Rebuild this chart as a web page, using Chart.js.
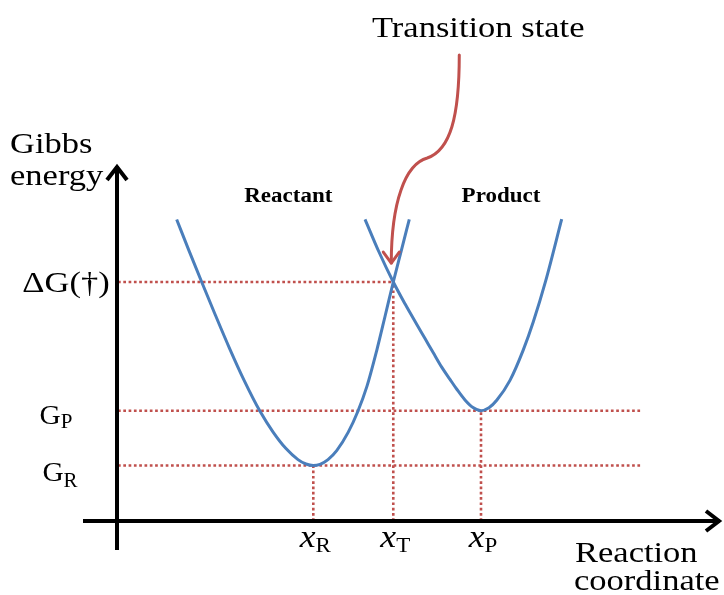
<!DOCTYPE html>
<html>
<head>
<meta charset="utf-8">
<script src="https://cdn.jsdelivr.net/npm/chart.js@4/dist/chart.umd.min.js"></script>
<style>
  html, body { margin: 0; padding: 0; background: #fff; }
  canvas { display: block; }
</style>
</head>
<body>
<canvas id="c" width="724" height="595"></canvas>
<script>
// Gibbs energy profile samples along the reaction coordinate (arbitrary units)
const reactantX = [9.78, 11.83, 13.95, 16.17, 18.55, 21.0, 23.67, 25.88, 28.0, 30.0, 31.33, 32.55,
                   33.67, 35.0, 36.45, 38.38, 39.95, 41.5, 43.12, 44.5, 45.88, 47.22, 48.55];
const reactantG = [84.69, 75.96, 67.13, 58.09, 48.65, 39.58, 30.81, 24.92, 20.34, 17.25, 16.01, 15.59,
                   15.93, 17.25, 19.78, 24.97, 30.7, 37.89, 47.89, 57.44, 67.13, 75.98, 84.75];
const productX  = [41.17, 43.5, 45.88, 47.83, 49.78, 51.17, 52.55, 53.95, 55.33, 56.5, 57.83, 59.17, 60.5,
                   61.83, 63.12, 65.33, 67.55, 69.22, 71.28, 73.95];
const productG  = [84.75, 75.56, 67.13, 61.01, 55.28, 51.26, 47.25, 43.23, 39.79, 36.94, 34.02, 31.88, 30.98,
                   31.8, 33.9, 39.49, 48.06, 55.96, 67.44, 84.78];

// Marked energy levels: G_R, G_P, ΔG(†)
const levelValues = [15.59, 30.98, 67.13];
const yTickLabels = [['G', 'R'], ['G', 'P'], ['ΔG(†)', '']];
// Marked coordinates: x_R, x_T, x_P
const coordValues = [32.55, 45.88, 60.5];
const xTickLabels = [['x', 'R'], ['x', 'T'], ['x', 'P']];
// How far the dotted level lines run to the right
const levelLineEnds = [87.3, 87.3, 45.88];

const curveLabels = ['Reactant', 'Product'];
const yAxisTitle = ['Gibbs', 'energy'];
const xAxisTitle = ['Reaction', 'coordinate'];
const calloutText = 'Transition state';

const BLUE = '#4a7ebb';
const RED = '#c0504d';
const SERIF = '"Liberation Serif", "Times New Roman", serif';
const STRETCH = 1.15;

const zip = (xs, ys) => xs.map((x, i) => ({ x: x, y: ys[i] }));

function curveDataset(xs, ys) {
  return {
    data: zip(xs, ys),
    showLine: true,
    borderColor: BLUE,
    borderWidth: 3,
    pointRadius: 0,
    cubicInterpolationMode: 'monotone',
    fill: false
  };
}

function guideDataset(points) {
  return {
    data: points,
    showLine: true,
    borderColor: RED,
    borderWidth: 2.6,
    borderDash: [2.7, 2.6],
    pointRadius: 0,
    tension: 0,
    fill: false
  };
}

const datasets = [curveDataset(reactantX, reactantG), curveDataset(productX, productG)];
levelValues.forEach((g, i) => {
  datasets.push(guideDataset([{ x: 0, y: g }, { x: levelLineEnds[i], y: g }]));
});
// vertical drops: x_R from G_R, x_T from ΔG, x_P from G_P
const dropTops = [levelValues[0], levelValues[2], levelValues[1]];
coordValues.forEach((x, i) => {
  datasets.push(guideDataset([{ x: x, y: 0 }, { x: x, y: dropTops[i] }]));
});

// text drawn with a slight horizontal stretch
function stretchedText(ctx, text, x, y, font, sx, align) {
  ctx.font = font;
  const w = ctx.measureText(text).width * sx;
  let left = x;
  if (align === 'center') left = x - w / 2;
  else if (align === 'right') left = x - w;
  ctx.save();
  ctx.translate(left, y);
  ctx.scale(sx, 1);
  ctx.textAlign = 'left';
  ctx.textBaseline = 'alphabetic';
  ctx.fillText(text, 0, 0);
  ctx.restore();
  return w;
}

function drawSub(ctx, main, sub, cx, baseline, mainFont, subFont, drop, sx) {
  ctx.font = mainFont;
  const w1 = ctx.measureText(main).width * sx;
  ctx.font = subFont;
  const w2 = sub ? ctx.measureText(sub).width * sx : 0;
  const start = cx - (w1 + w2) / 2;
  stretchedText(ctx, main, start, baseline, mainFont, sx, 'left');
  if (sub) stretchedText(ctx, sub, start + w1, baseline + drop, subFont, sx, 'left');
}

// per-label placement of the energy level names
const yLabelStyle = [
  { cx: 60, dy: 16, size: 28, sub: 20, drop: 6, sx: 1.05 },
  { cx: 56, dy: 13, size: 28, sub: 20, drop: 4, sx: 1.05 },
  { cx: 66, dy: 10, size: 30, sub: 20, drop: 0, sx: 1.15 }
];

const decorations = {
  id: 'decorations',
  afterDatasetsDraw(chart) {
    const ctx = chart.ctx;
    const a = chart.chartArea;
    const xs = chart.scales.x, ys = chart.scales.y;
    ctx.save();

    // axes with open arrow heads
    ctx.strokeStyle = '#000';
    ctx.lineWidth = 4;
    ctx.lineCap = 'butt';
    ctx.lineJoin = 'miter';
    ctx.beginPath();
    ctx.moveTo(a.left - 1, a.bottom + 29);
    ctx.lineTo(a.left - 1, a.top + 1);
    ctx.stroke();
    ctx.beginPath();
    ctx.moveTo(a.left - 11, a.top + 15);
    ctx.lineTo(a.left - 1, a.top + 2);
    ctx.lineTo(a.left + 9, a.top + 15);
    ctx.stroke();

    ctx.beginPath();
    ctx.moveTo(a.left - 35, a.bottom);
    ctx.lineTo(a.right + 2, a.bottom);
    ctx.stroke();
    ctx.beginPath();
    ctx.moveTo(a.right - 12, a.bottom - 10);
    ctx.lineTo(a.right + 1, a.bottom);
    ctx.lineTo(a.right - 12, a.bottom + 10);
    ctx.stroke();

    ctx.fillStyle = '#000';

    // level labels on the energy axis
    levelValues.forEach((g, i) => {
      const py = ys.getPixelForValue(g);
      const lab = yTickLabels[i];
      const st = yLabelStyle[i];
      drawSub(ctx, lab[0], lab[1], st.cx, py + st.dy,
        st.size + 'px ' + SERIF, st.sub + 'px ' + SERIF, st.drop, st.sx);
    });

    // coordinate labels under the reaction axis
    coordValues.forEach((x, i) => {
      const px = xs.getPixelForValue(x);
      const lab = xTickLabels[i];
      drawSub(ctx, lab[0], lab[1], px + 2, a.bottom + 26,
        'italic 31px ' + SERIF, '20px ' + SERIF, 5, STRETCH);
    });

    // axis titles and callout text
    const big = '30px ' + SERIF;
    stretchedText(ctx, yAxisTitle[0], 10, 153, big, STRETCH, 'left');
    stretchedText(ctx, yAxisTitle[1], 10, 185, big, STRETCH, 'left');
    stretchedText(ctx, xAxisTitle[0], 575, 562, big, STRETCH, 'left');
    stretchedText(ctx, xAxisTitle[1], 574, 590, big, STRETCH, 'left');
    stretchedText(ctx, calloutText, 372, 37, big, STRETCH, 'left');

    // well labels
    const bold = 'bold 20px ' + SERIF;
    stretchedText(ctx, curveLabels[0], xs.getPixelForValue(coordValues[0]) - 25, 202, bold, STRETCH, 'center');
    stretchedText(ctx, curveLabels[1], xs.getPixelForValue(coordValues[2]) + 20, 202, bold, STRETCH, 'center');

    // curved callout arrow pointing at the crossing point
    const tx = xs.getPixelForValue(coordValues[1]);
    const ty = ys.getPixelForValue(levelValues[2]);
    const tipX = tx - 2, tipY = ty - 19;
    ctx.strokeStyle = RED;
    ctx.lineWidth = 3;
    ctx.lineCap = 'round';
    ctx.lineJoin = 'round';
    ctx.beginPath();
    ctx.moveTo(tx + 66, ty - 227);
    ctx.bezierCurveTo(tx + 66, ty - 165, tx + 57, ty - 132, tx + 34, ty - 124);
    ctx.bezierCurveTo(tx + 12, ty - 118, tipX, ty - 80, tipX, tipY);
    ctx.stroke();
    ctx.beginPath();
    ctx.moveTo(tipX - 8, tipY - 11);
    ctx.lineTo(tipX, tipY);
    ctx.lineTo(tipX + 8, tipY - 11);
    ctx.stroke();

    ctx.restore();
  }
};

new Chart(document.getElementById('c'), {
  type: 'scatter',
  data: { datasets: datasets },
  options: {
    responsive: false,
    animation: false,
    devicePixelRatio: 1,
    layout: { padding: { left: 118, right: 6, top: 165, bottom: 74 } },
    scales: {
      x: { type: 'linear', min: 0, max: 100, display: false },
      y: { type: 'linear', min: 0, max: 100, display: false }
    },
    plugins: { legend: { display: false }, tooltip: { enabled: false } }
  },
  plugins: [decorations]
});
</script>
</body>
</html>
